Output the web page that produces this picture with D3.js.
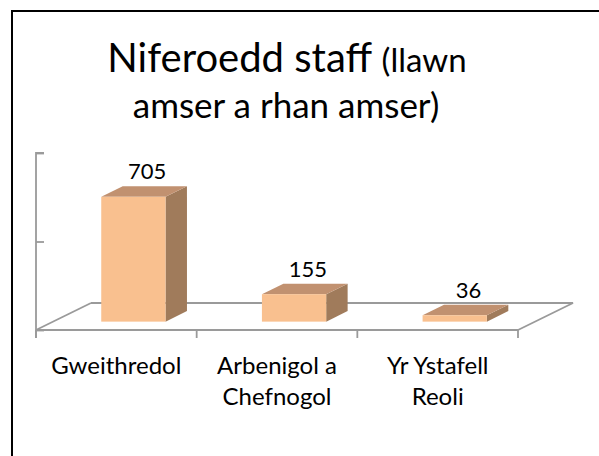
<!DOCTYPE html>
<html><head><meta charset="utf-8">
<script src="https://cdn.jsdelivr.net/npm/d3@7"></script>
<style>
body{margin:0;background:#fff}
svg{display:block}
text{font-family:Lato,"Noto Sans",sans-serif;fill:#000}
</style>
</head><body>
<svg id="chart" width="599" height="456"></svg>
<script>
// ---- data ----
const categories = ["Gweithredol", "Arbenigol a Chefnogol", "Yr Ystafell Reoli"];
const categoryLines = [["Gweithredol"], ["Arbenigol a", "Chefnogol"], ["Yr Ystafell", "Reoli"]];
const values = [705, 155, 36];
const valueTicks = [0, 500, 1000];
const titleLine1Main = "Niferoedd staff ";
const titleLine1Small = "(llawn";
const titleLine2 = "amser a rhan amser)";

// ---- layout ----
const svg = d3.select("#chart");
const plot = {left: 36, right: 518, floorY: 330, topY: 153};
const depthDX = 55, depthDY = -27;       // full floor depth (oblique projection)
const barZ0 = 0.31, barZ1 = 0.70;        // bar position within the depth

const x = d3.scaleBand(categories, [plot.left, plot.right]).paddingInner(0.6).paddingOuter(0.3);
const y = d3.scaleLinear([0, 1000], [plot.floorY, plot.topY]);
const dz = d3.scaleLinear([0, 1], [0, depthDX]);
const dzy = d3.scaleLinear([0, 1], [0, depthDY]);

const axisColor = "#9a9a9a";
const colFront = "#f9c08f", colTop = "#c19170", colSide = "#a07b5b";

// chart border (right/bottom edges fall outside the window)
svg.append("rect").attr("x", 12).attr("y", 11).attr("width", 700).attr("height", 700)
  .attr("fill", "none").attr("stroke", "#000").attr("stroke-width", 2);

// title
const title = svg.append("g");
const t1 = title.append("text").attr("x", 287).attr("y", 72).attr("text-anchor", "middle");
t1.append("tspan").attr("font-size", 40).text(titleLine1Main);
t1.append("tspan").attr("font-size", 33).text(titleLine1Small);
title.append("text").attr("x", 286).attr("y", 118).attr("text-anchor", "middle")
  .attr("font-size", 35).text(titleLine2);

// floor
const x0 = plot.left, x1 = plot.right, fy = y(0);
const floor = svg.append("g").attr("stroke", axisColor).attr("stroke-width", 1.8).attr("fill", "none");
floor.append("path").attr("d", d3.line()([[x0 + dz(1), fy + dzy(1)], [x1 + dz(1), fy + dzy(1)], [x1, fy]]));
floor.append("path").attr("d", d3.line()([[x0, fy], [x0 + dz(1), fy + dzy(1)]]));
floor.append("path").attr("d", d3.line()([[x0, fy], [x1, fy]]));

// value axis (labels hidden)
const yAxis = d3.axisRight(y).tickValues(valueTicks).tickSize(8).tickFormat("");
const gy = svg.append("g").attr("transform", `translate(${plot.left},0)`).call(yAxis);
gy.select(".domain").attr("d", `M8,${y(1000)}H0V${fy + 8}`).attr("stroke", axisColor).attr("stroke-width", 1.8);
gy.selectAll(".tick line").attr("stroke", axisColor).attr("stroke-width", 1.8);

// category axis ticks at band boundaries
const step = x.step();
const bounds = d3.range(categories.length + 1).map(i => plot.left + i * step);
svg.append("g").selectAll("line").data(bounds).join("line")
  .attr("x1", d => d).attr("x2", d => d).attr("y1", fy).attr("y2", fy + 8)
  .attr("stroke", axisColor).attr("stroke-width", 1.8);

// bars
const bw = x.bandwidth();
const ddx = dz(barZ1) - dz(barZ0), ddy = dzy(barZ1) - dzy(barZ0);
const bars = svg.append("g").selectAll("g").data(values.map((v, i) => ({v, c: categories[i]}))).join("g");
bars.each(function(d) {
  const g = d3.select(this);
  const fx0 = x(d.c) + dz(barZ0), fx1 = fx0 + bw;
  const yt = y(d.v) + dzy(barZ0), yb = y(0) + dzy(barZ0);
  g.append("path").attr("fill", colSide)
    .attr("d", d3.line()([[fx1, yt], [fx1 + ddx, yt + ddy], [fx1 + ddx, yb + ddy], [fx1, yb]]) + "Z");
  g.append("path").attr("fill", colTop)
    .attr("d", d3.line()([[fx0, yt], [fx1, yt], [fx1 + ddx, yt + ddy], [fx0 + ddx, yt + ddy]]) + "Z");
  g.append("rect").attr("x", fx0).attr("y", yt).attr("width", bw).attr("height", yb - yt).attr("fill", colFront);
  g.append("text").attr("x", (fx0 + fx1) / 2 + ddx / 2 + 3).attr("y", yt + ddy - 7)
    .attr("text-anchor", "middle").attr("font-size", 22).text(d3.format("d")(d.v));
});

// category labels
const labels = svg.append("g").selectAll("text").data(categories).join("text")
  .attr("text-anchor", "middle").attr("font-size", 24)
  .attr("transform", d => `translate(${x(d) + bw / 2},0)`);
labels.each(function(d, i) {
  d3.select(this).selectAll("tspan").data(categoryLines[i]).join("tspan")
    .attr("x", 0).attr("y", (l, j) => 374 + j * 31).text(l => l);
});
</script>
</body></html>
